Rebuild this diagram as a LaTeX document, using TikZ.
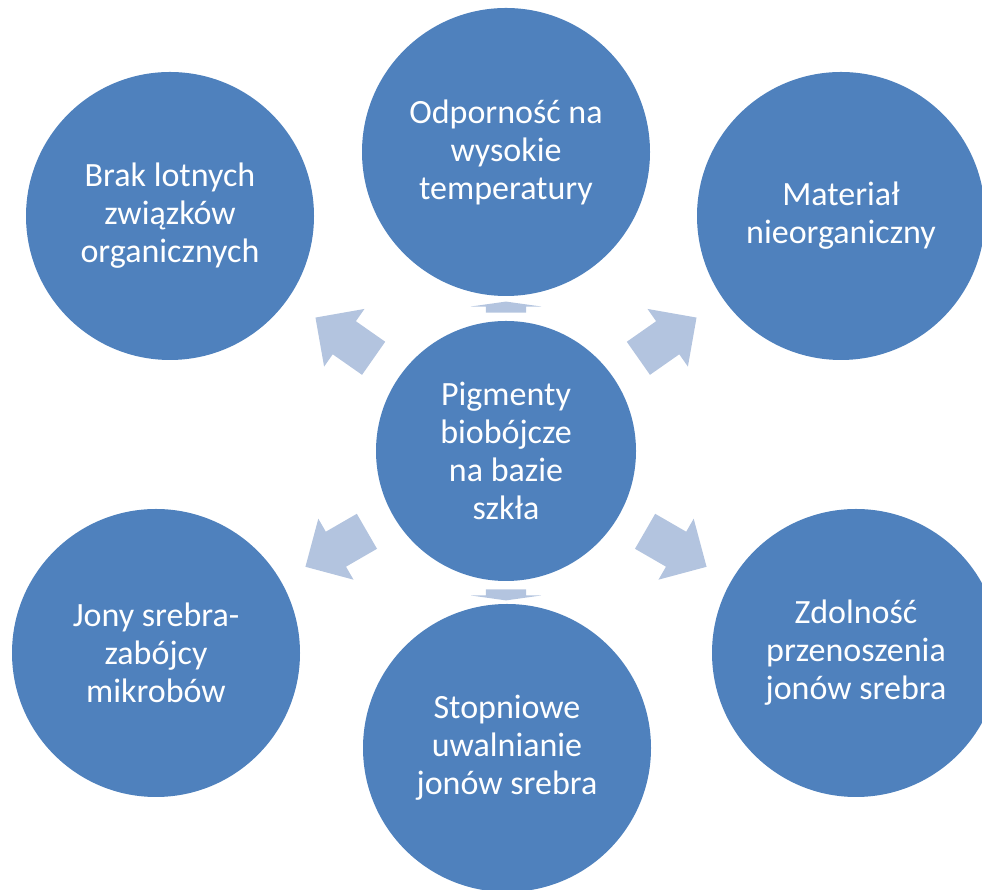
\documentclass[tikz,border=0pt]{standalone}
\usepackage{fontspec}
\setmainfont{Carlito}
\usetikzlibrary{shapes.arrows}
\definecolor{Cfill}{RGB}{79,129,189}
\definecolor{Afill}{RGB}{179,196,223}

\begin{document}
\begin{tikzpicture}[x=1pt,y=1pt,
  bubble/.style={circle,fill=Cfill,minimum size=288pt,inner sep=0pt,align=center,text=white,font=\fontsize{34}{38}\selectfont},
  hub/.style={bubble,minimum size=260pt},
  pointer/.style={single arrow,fill=Afill,inner xsep=0pt,inner ysep=20pt,single arrow head extend=15pt,single arrow tip angle=90,minimum height=71pt},
  flatpointer/.style={pointer,single arrow tip angle=164,minimum height=11pt}]
\useasboundingbox (0,0) rectangle (982,890);
\clip (0,0) rectangle (982,890);
% centre and the six ideas around it
\node[hub] (ctr) at (506,439) {Pigmenty\\biobójcze\\na bazie\\szkła};
\node[bubble] (top) at (506,738) {Odporność na\\wysokie\\temperatury};
\node[bubble] (tl) at (170,674) {Brak lotnych\\związków\\organicznych};
\node[bubble] (tr) at (841,674) {Materiał\\nieorganiczny};
\node[bubble] (bl) at (156,237) {Jony srebra-\\zabójcy\\mikrobów};
\node[bubble] (br) at (856,237) {Zdolność\\przenoszenia\\jonów srebra};
\node[bubble] (bot) at (507,142) {Stopniowe\\uwalnianie\\jonów srebra};
% arrows out of the centre
\node[flatpointer,rotate=90] (atop) at ([shift={(90:142.5)}]ctr) {};
\node[pointer,rotate=145] (atl) at ([shift={(145:187)}]ctr) {};
\node[pointer,rotate=35] (atr) at ([shift={(35:187)}]ctr) {};
\node[pointer,rotate=210] (abl) at ([shift={(210:186)}]ctr) {};
\node[pointer,rotate=-30] (abr) at ([shift={(-30:186)}]ctr) {};
\node[flatpointer,rotate=-90] (abot) at ([shift={(-90:142.5)}]ctr) {};
\end{tikzpicture}
\end{document}
